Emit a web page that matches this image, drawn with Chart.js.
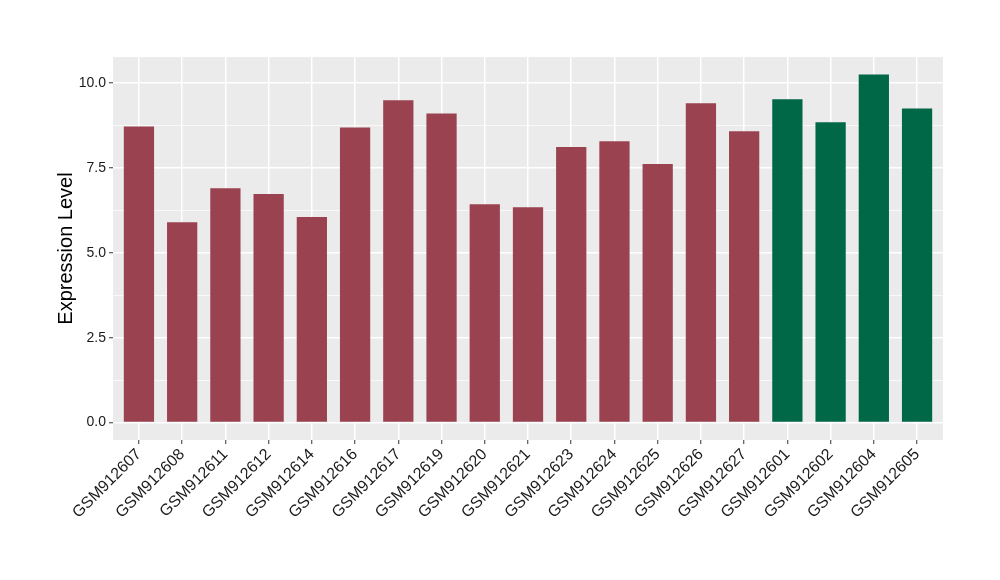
<!DOCTYPE html>
<html>
<head>
<meta charset="utf-8">
<script src="https://cdn.jsdelivr.net/npm/chart.js@4"></script>
<style>
  html, body { margin: 0; padding: 0; background: #fff; }
  #wrap { width: 1000px; height: 580px; }
</style>
</head>
<body>
<div id="wrap"><canvas id="exprChart" width="1000" height="580"></canvas></div>
<script>
const samples = ['GSM912607', 'GSM912608', 'GSM912611', 'GSM912612', 'GSM912614', 'GSM912616',
  'GSM912617', 'GSM912619', 'GSM912620', 'GSM912621', 'GSM912623', 'GSM912624', 'GSM912625',
  'GSM912626', 'GSM912627', 'GSM912601', 'GSM912602', 'GSM912604', 'GSM912605'];
const expression = [8.72, 5.90, 6.90, 6.73, 6.05, 8.69, 9.49, 9.10, 6.43, 6.34, 8.11, 8.28, 7.61,
  9.40, 8.58, 9.52, 8.84, 10.25, 9.25];
const group = ['a', 'a', 'a', 'a', 'a', 'a', 'a', 'a', 'a', 'a', 'a', 'a', 'a', 'a', 'a', 'b', 'b', 'b', 'b'];
const yTicks = [0, 2.5, 5, 7.5, 10];
const yMinor = [1.25, 3.75, 6.25, 8.75];

const groupColors = { a: '#9A4250', b: '#006747' };

// grey panel behind the bars, like ggplot's theme_grey
const panelBg = {
  id: 'panelBg',
  beforeDraw(chart) {
    const a = chart.chartArea;
    const ctx = chart.ctx;
    ctx.save();
    ctx.fillStyle = '#EBEBEB';
    ctx.fillRect(a.left, a.top, a.right - a.left, a.bottom - a.top);
    ctx.restore();
  }
};

const ctx = document.getElementById('exprChart').getContext('2d');
new Chart(ctx, {
  type: 'bar',
  data: {
    datasets: [{
      data: expression.map((v, i) => ({ x: i, y: v })),
      backgroundColor: group.map(g => groupColors[g]),
      borderWidth: 0,
      barPercentage: 0.7,
      categoryPercentage: 1.0
    }]
  },
  plugins: [panelBg],
  options: {
    responsive: false,
    animation: false,
    layout: { padding: { left: 0, top: 57, right: 57, bottom: 0 } },
    plugins: {
      legend: { display: false },
      tooltip: { enabled: false }
    },
    scales: {
      x: {
        type: 'linear',
        offset: false,
        min: -0.6,
        max: samples.length - 1 + 0.6,
        afterBuildTicks: s => { s.ticks = samples.map((_, i) => ({ value: i })); },
        afterFit: s => { s.height = 140; },
        ticks: {
          autoSkip: false,
          maxRotation: 45,
          minRotation: 45,
          padding: 1,
          color: '#1A1A1A',
          font: { family: 'Liberation Sans', size: 16 },
          callback: v => samples[v]
        },
        grid: {
          offset: false,
          color: '#FFFFFF',
          lineWidth: 1.5,
          tickColor: '#333333',
          tickWidth: 1,
          tickLength: 4,
          drawOnChartArea: true
        },
        border: { display: false }
      },
      y: {
        min: -0.5125,
        max: 10.7625,
        afterBuildTicks: s => {
          s.ticks = yTicks.concat(yMinor).sort((p, q) => p - q).map(v => ({ value: v }));
        },
        afterFit: s => { s.width = 113; },
        ticks: {
          padding: 3,
          color: '#1A1A1A',
          font: { family: 'Liberation Sans', size: 14 },
          callback: v => yTicks.includes(v) ? v.toFixed(1) : ''
        },
        grid: {
          color: '#FFFFFF',
          lineWidth: c => yTicks.includes(c.tick.value) ? 1.5 : 0.7,
          tickColor: c => yTicks.includes(c.tick.value) ? '#333333' : 'rgba(0,0,0,0)',
          tickWidth: 1,
          tickLength: 4
        },
        border: { display: false },
        title: {
          display: true,
          text: 'Expression Level',
          color: '#000000',
          font: { family: 'Liberation Sans', size: 20 },
          padding: { top: 54, bottom: 0 }
        }
      }
    }
  }
});
</script>
</body>
</html>
